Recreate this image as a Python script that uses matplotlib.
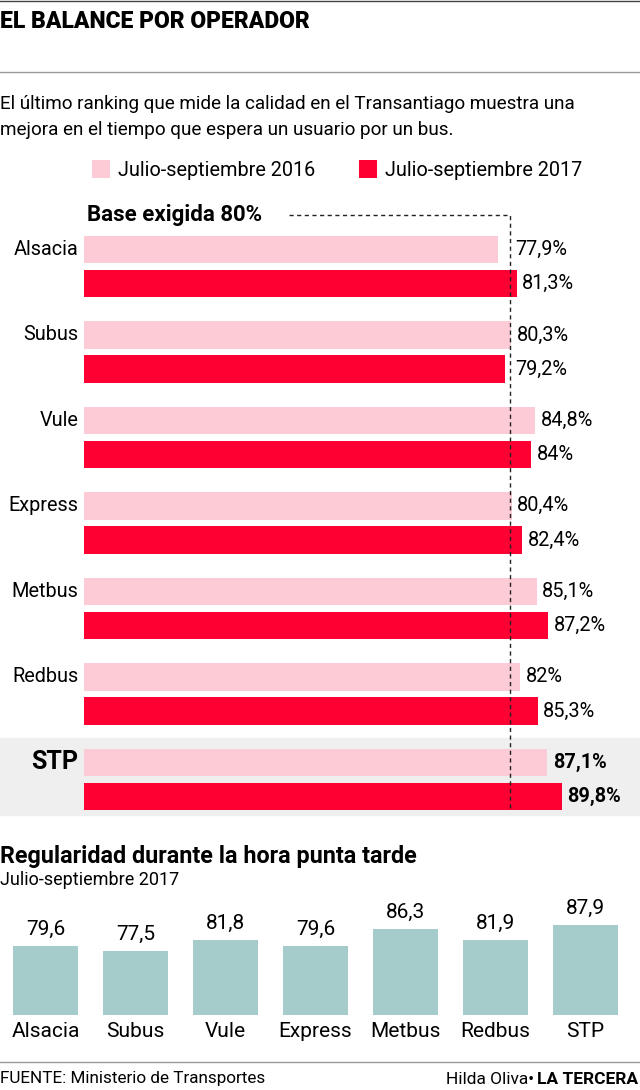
import numpy as np
import matplotlib
matplotlib.use('Agg')
import matplotlib.pyplot as plt
from matplotlib.patches import Rectangle
from matplotlib.lines import Line2D
from matplotlib import transforms

# datos
operadores = ['Alsacia', 'Subus', 'Vule', 'Express', 'Metbus', 'Redbus', 'STP']
valores_2016 = [77.9, 80.3, 84.8, 80.4, 85.1, 82.0, 87.1]
valores_2017 = [81.3, 79.2, 84.0, 82.4, 87.2, 85.3, 89.8]
regularidad = [79.6, 77.5, 81.8, 79.6, 86.3, 81.9, 87.9]
base_exigida = 80
serie_2016 = 'Julio-septiembre 2016'
serie_2017 = 'Julio-septiembre 2017'

ROSA = '#fdcbd6'
ROJO = '#ff0033'
VERDE = '#a6cbcb'
GRIS = '#efefef'

plt.rcParams['font.family'] = ['Roboto', 'DejaVu Sans']

W, H = 640, 1090
fig = plt.figure(figsize=(W / 100, H / 100), dpi=100)


def fy(y):
    return 1 - y / H


def coma(v):
    return ('%g' % v).replace('.', ',')


# cabecera
fig.add_artist(Line2D([0, 1], [fy(1), fy(1)], transform=fig.transFigure, color='#444444', lw=1))
fig.text(0, fy(22), 'EL BALANCE POR OPERADOR', fontsize=16.5, fontweight='heavy', va='center')
fig.add_artist(Line2D([0, 1], [fy(72), fy(72)], transform=fig.transFigure, color='#999999', lw=1))
fig.text(0, fy(104), 'El último ranking que mide la calidad en el Transantiago muestra una',
         fontsize=13.6, va='center')
fig.text(0, fy(130), 'mejora en el tiempo que espera un usuario por un bus.', fontsize=13.6, va='center')

# grafico de barras horizontales
ax = fig.add_axes([84 / W, fy(820), 556 / W, 610 / H])
idx = np.arange(len(operadores))
b16 = ax.barh(idx - 0.2, valores_2016, height=0.32, color=ROSA, label=serie_2016)
b17 = ax.barh(idx + 0.2, valores_2017, height=0.32, color=ROJO, label=serie_2017)
ax.set_xlim(0, 556 / 5.32)
ax.set_ylim(6.474, -0.661)
ax.axis('off')

# fondo STP
trans = transforms.blended_transform_factory(fig.transFigure, ax.transData)
ax.add_patch(Rectangle((0, 5.51), 1, 0.91, transform=trans, color=GRIS, clip_on=False, zorder=0))

# linea base
ax.plot([38.5, base_exigida, base_exigida], [-0.6, -0.6, 6.35], color='#222222', lw=1,
        ls=(0, (3, 2.5)), clip_on=False, zorder=3)
ax.text(0.6, -0.6, 'Base exigida %d%%' % base_exigida, fontsize=16, fontweight='bold', va='center')

for i, nombre in enumerate(operadores):
    if nombre == 'STP':
        ax.text(-1.1, i - 0.2, nombre, ha='right', va='center', fontsize=18, fontweight='bold')
    else:
        ax.text(-1.1, i - 0.2, nombre, ha='right', va='center', fontsize=14.3)
    for v, y in [(valores_2016[i], i - 0.2), (valores_2017[i], i + 0.2)]:
        ax.annotate(coma(v) + '%', (max(v, base_exigida), y), xytext=(4, 0),
                    textcoords='offset points', va='center', fontsize=14.3,
                    fontweight='bold' if nombre == 'STP' else 'normal')

fig.legend(handles=[b16, b17], loc='center', bbox_to_anchor=(337 / W, fy(170)), ncol=2,
           frameon=False, fontsize=14.3, handlelength=0.9, handleheight=1.0,
           handletextpad=0.4, columnspacing=2.2)

# regularidad
fig.text(0, fy(856), 'Regularidad durante la hora punta tarde', fontsize=16.8, fontweight='bold', va='center')
fig.text(0, fy(880), 'Julio-septiembre 2017', fontsize=13, va='center')

ax2 = fig.add_axes([0, fy(1015), 1, 115 / H])
ax2.bar(idx, regularidad, width=0.72, color=VERDE)
ax2.set_xlim(-0.506, 6.606)
ax2.set_ylim(51.9, 51.9 + 115 / 2.5)
for v, x in zip(regularidad, idx):
    ax2.annotate(coma(v), (x, v), xytext=(0, 5), textcoords='offset points',
                 ha='center', va='bottom', fontsize=15)
ax2.set_xticks(idx)
ax2.set_xticklabels(operadores, fontsize=15)
ax2.tick_params(axis='x', length=0, pad=5)
ax2.set_yticks([])
for s in ax2.spines.values():
    s.set_visible(False)
ax2.patch.set_visible(False)

# pie
fig.add_artist(Line2D([0, 1], [fy(1062), fy(1062)], transform=fig.transFigure, color='#999999', lw=1))
fig.text(0, fy(1079), 'FUENTE: Ministerio de Transportes', fontsize=12.3, va='center')
firma = fig.text(638 / W, fy(1079), 'LA TERCERA', fontsize=12.5, fontweight='bold', va='center', ha='right')
renderer = fig.canvas.get_renderer()
x0 = firma.get_window_extent(renderer).x0
fig.text((x0 - 3) / W, fy(1079), 'Hilda Oliva•', fontsize=12.5, va='center', ha='right')

fig.savefig('out.png', dpi=100)
